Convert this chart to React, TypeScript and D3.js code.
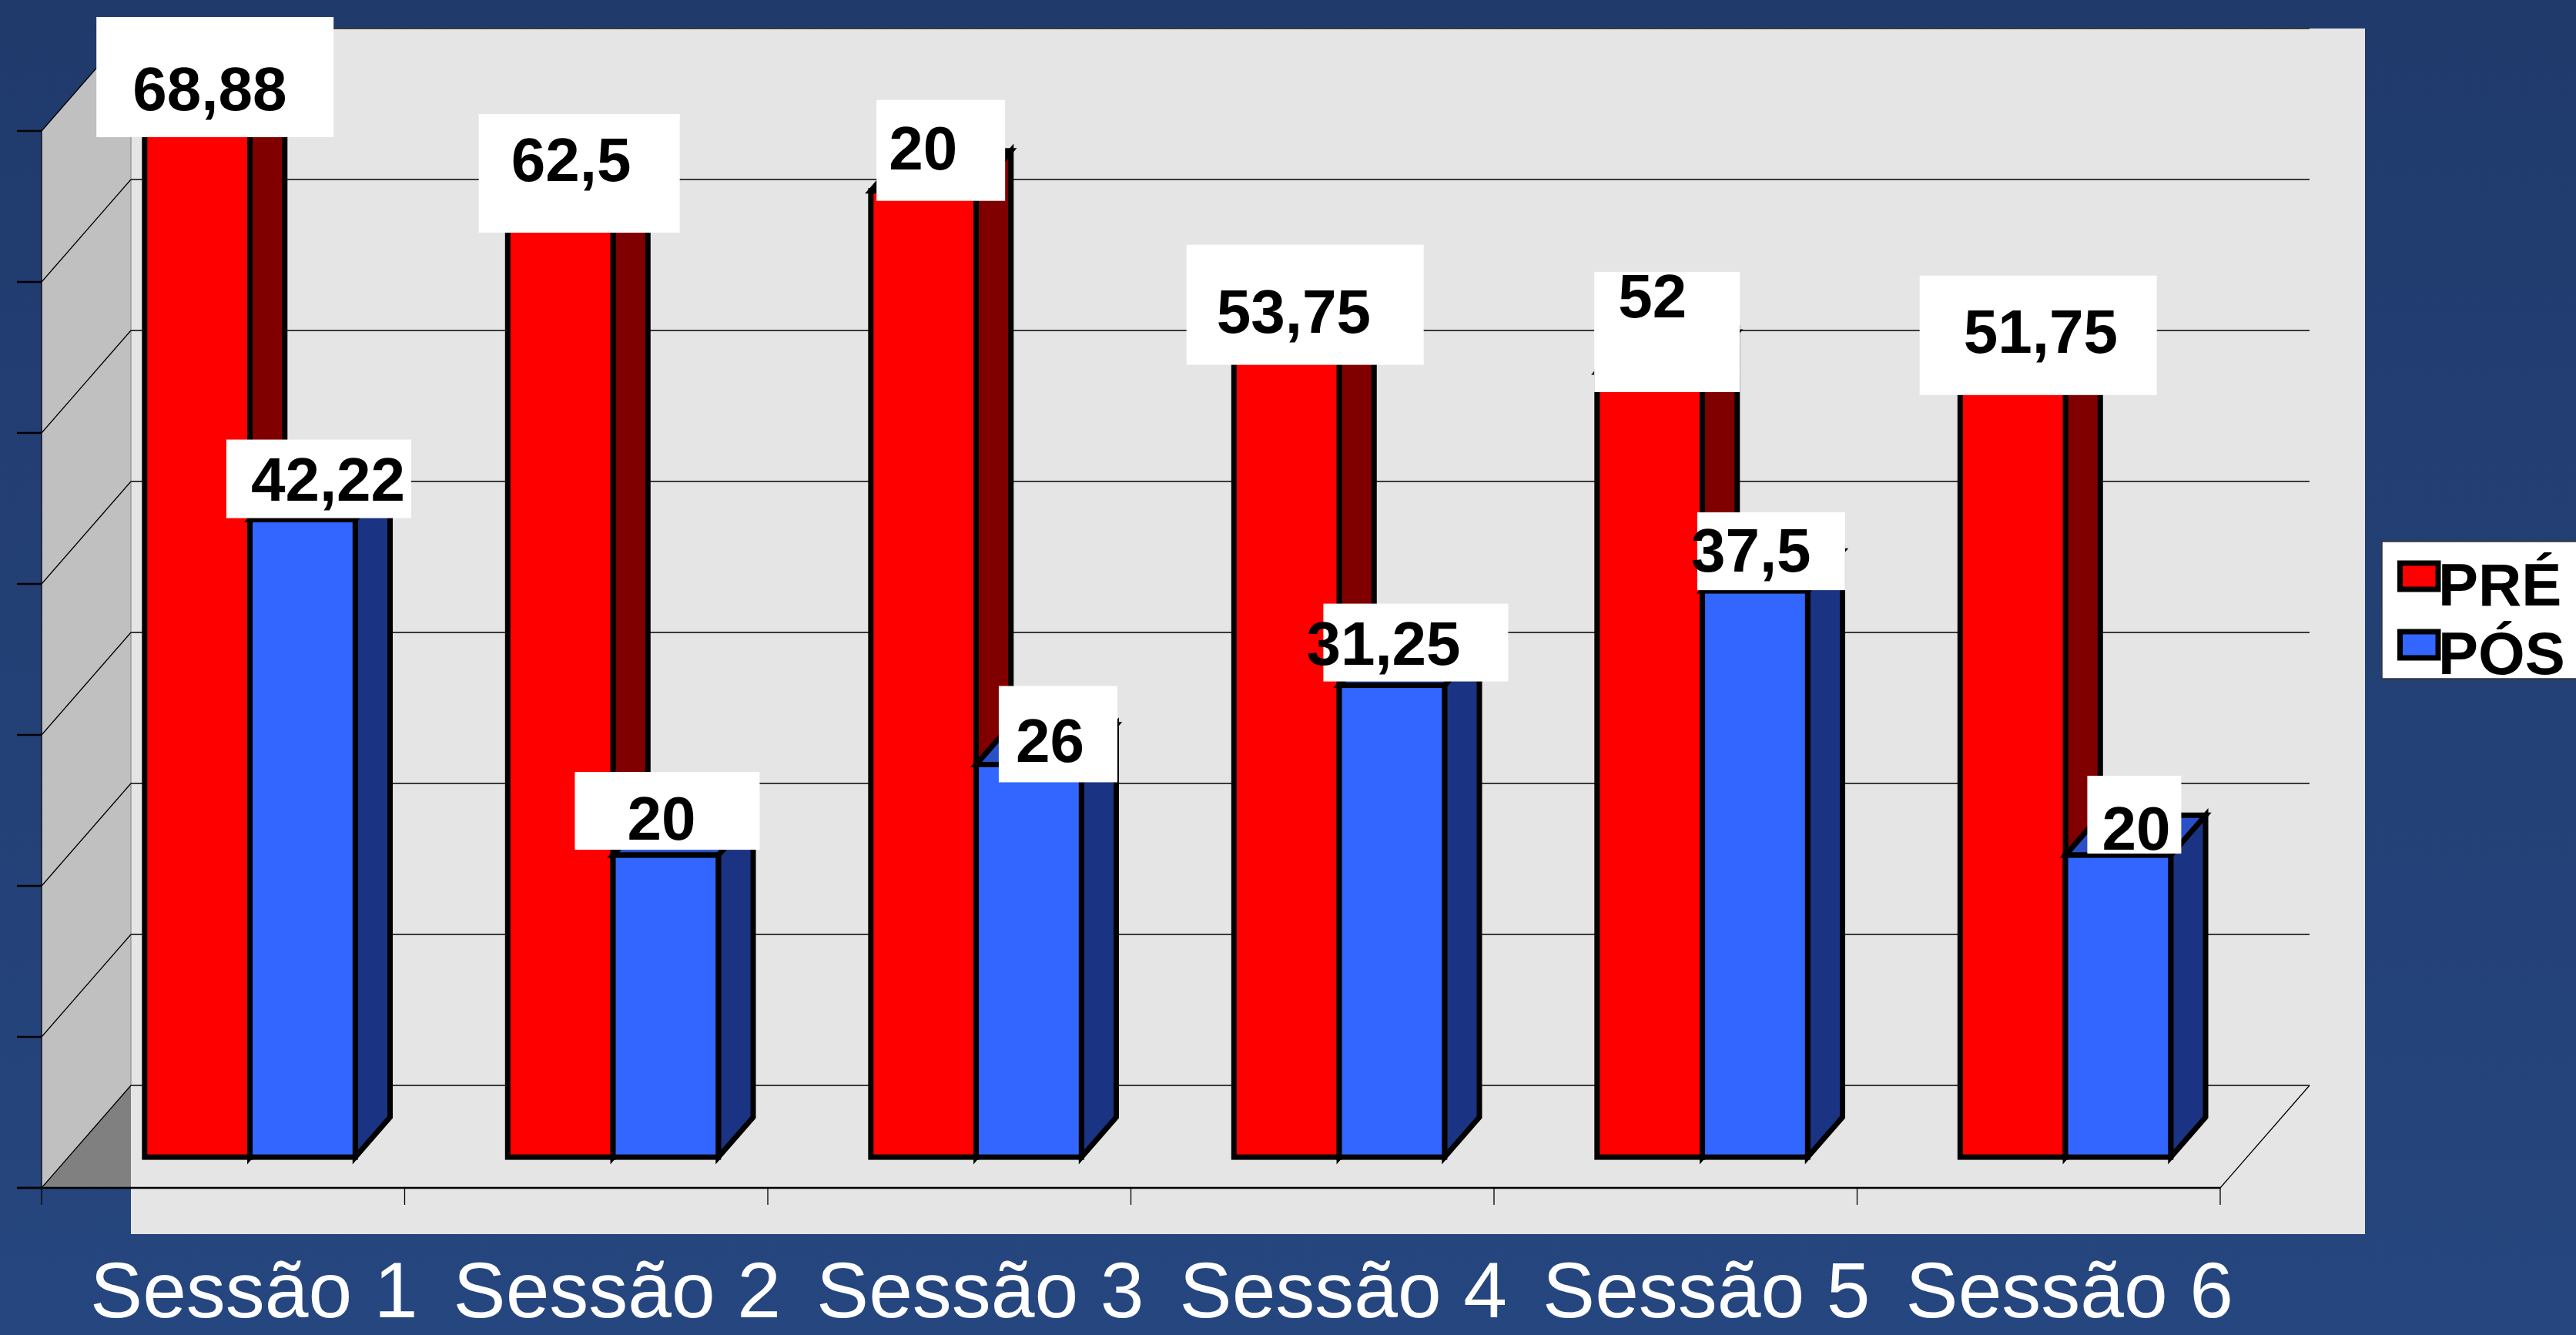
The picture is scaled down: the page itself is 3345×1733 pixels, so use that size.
import React from "react";
import * as d3 from "d3";

// data
const categories = ["Sessão 1", "Sessão 2", "Sessão 3", "Sessão 4", "Sessão 5", "Sessão 6"];
const series = ["PRÉ", "PÓS"];
const preValues = [68.88, 62.5, 64, 53.75, 52, 51.75];
const posValues = [42.22, 20, 26, 31.25, 37.5, 20];
// labels as printed (the third PRÉ label reads "20" in the source)
const preLabels = ["68,88", "62,5", "20", "53,75", "52", "51,75"];
const posLabels = ["42,22", "20", "26", "31,25", "37,5", "20"];
const yTicks = [0, 10, 20, 30, 40, 50, 60, 70];

// label box placement relative to the top centre of each bar: [boxDx, boxDy, w, h, textDx, textDy]
const preLabelLayout = [
  [-131, -130, 308, 156, -84, -9],
  [-106, -129, 261, 154, -64, -42],
  [-61, -118, 167, 131, -45, -28],
  [-130, -131, 308, 156, -91, -17],
  [-72, -130, 189, 156, -41, -71],
  [-121, -130, 308, 155, -64, -30],
];
const posLabelLayout = [
  [-99, -104, 240, 102, -67, -25],
  [-118, -108, 240, 101, -50, -20],
  [-39, -102, 154, 125, -17, -4],
  [-89, -106, 240, 101, -111, -27],
  [-75, -102, 192, 101, -83, -25],
  [-40, -103, 122, 101, -21, -7],
];

const W = 3345;
const H = 1733;
const DX = 116; // depth offset of the floor
const DY = 133;
const F0 = 0.3; // bar front depth
const F1 = 0.69; // bar back depth
const FONT = "'Liberation Sans', Arial, sans-serif";

const colors = {
  front: ["#ff0000", "#3366ff"],
  side: ["#800000", "#1a3382"],
  top: ["#c00000", "#2a50c8"],
};

const App: React.FC = () => {
  const x = d3
    .scaleBand<string>()
    .domain(categories)
    .range([54, 2883])
    .paddingInner(0.42)
    .paddingOuter(0.21);
  const step = x.step();
  const xs = d3.scaleBand<string>().domain(series).range([0, x.bandwidth()]);
  const y = d3.scaleLinear().domain([0, 70]).range([1542, 170]);

  const x0 = 54;
  const x1 = 2883;
  const yBase = y(0);
  const pt = (px: number, py: number, f: number) => `${px + f * DX},${py - f * DY}`;

  const bars: JSX.Element[] = [];
  const labels: JSX.Element[] = [];
  categories.forEach((cat, i) => {
    [preValues[i], posValues[i]].forEach((v, s) => {
      const bx0 = x(cat)! + xs(series[s])!;
      const bx1 = bx0 + xs.bandwidth();
      const yt = y(v);
      const common = {
        stroke: "#000",
        strokeWidth: 7,
        strokeLinejoin: "miter" as const,
      };
      bars.push(
        <g key={`b-${i}-${s}`}>
          <polygon
            points={[pt(bx1, yt, F0), pt(bx1, yt, F1), pt(bx1, yBase, F1), pt(bx1, yBase, F0)].join(" ")}
            fill={colors.side[s]}
            {...common}
          />
          <polygon
            points={[pt(bx0, yt, F0), pt(bx0, yt, F1), pt(bx1, yt, F1), pt(bx1, yt, F0)].join(" ")}
            fill={colors.top[s]}
            {...common}
          />
          <rect
            x={bx0 + F0 * DX}
            y={yt - F0 * DY}
            width={bx1 - bx0}
            height={yBase - yt}
            fill={colors.front[s]}
            {...common}
          />
        </g>
      );
      const lay = s === 0 ? preLabelLayout[i] : posLabelLayout[i];
      const cx = (bx0 + bx1) / 2 + F0 * DX;
      const cy = yt - F0 * DY;
      labels.push(
        <g key={`l-${i}-${s}`}>
          <rect x={cx + lay[0]} y={cy + lay[1]} width={lay[2]} height={lay[3]} fill="#fff" />
          <text
            x={cx + lay[4]}
            y={cy + lay[5]}
            fontFamily={FONT}
            fontWeight="bold"
            fontSize={80}
            fill="#000"
          >
            {s === 0 ? preLabels[i] : posLabels[i]}
          </text>
        </g>
      );
    });
  });

  return (
    <svg
      width={W}
      height={H}
      style={{ position: "absolute", left: 0, top: 0, display: "block" }}
    >
      <defs>
        <linearGradient id="bg" x1="0" y1="0" x2="0" y2="1">
          <stop offset="0" stopColor="#203a6c" />
          <stop offset="1" stopColor="#26467f" />
        </linearGradient>
      </defs>
      <rect width={W} height={H} fill="url(#bg)" />

      {/* plot area */}
      <rect x={x0 + DX} y={y(70) - DY} width={3071 - x0 - DX} height={1602 - (y(70) - DY)} fill="#e5e5e5" />

      {/* left wall */}
      <polygon
        points={[pt(x0, yBase, 0), pt(x0, y(70), 0), pt(x0, y(70), 1), pt(x0, yBase, 1)].join(" ")}
        fill="#c0c0c0"
      />
      <line x1={x0 + DX} x2={x0 + DX} y1={y(70) - DY} y2={yBase - DY} stroke="#9a9a9a" strokeWidth={1.5} />
      {/* visible floor corner */}
      <polygon
        points={[pt(x0, yBase, 0), pt(x0, yBase, 1), `${x0 + DX},${yBase}`].join(" ")}
        fill="#808080"
      />

      {/* gridlines: back wall and left wall */}
      {yTicks.map((t) => (
        <g key={`g-${t}`}>
          <line
            x1={x0 + DX}
            x2={x1 + DX}
            y1={y(t) - DY}
            y2={y(t) - DY}
            stroke="#3a3a3a"
            strokeWidth={t === 0 ? 2 : 1.8}
          />
          <line x1={x0} y1={y(t)} x2={x0 + DX} y2={y(t) - DY} stroke="#000" strokeWidth={1.3} />
          <line x1={22} x2={x0} y1={y(t)} y2={y(t)} stroke="#000" strokeWidth={2.5} />
        </g>
      ))}

      {/* axes */}
      <line x1={x0} x2={x0} y1={y(70)} y2={yBase} stroke="#000" strokeWidth={1.3} />
      <line x1={x1} y1={yBase} x2={x1 + DX} y2={yBase - DY} stroke="#000" strokeWidth={1.3} />
      <line x1={22} x2={x1} y1={yBase} y2={yBase} stroke="#000" strokeWidth={2.5} />
      {d3.range(categories.length + 1).map((k) => (
        <line
          key={`t-${k}`}
          x1={x0 + k * step}
          x2={x0 + k * step}
          y1={yBase}
          y2={yBase + 22}
          stroke="#000"
          strokeWidth={1.3}
        />
      ))}

      {bars}
      {labels}

      {/* category labels */}
      {categories.map((cat) => (
        <text
          key={cat}
          x={x(cat)! + x.bandwidth() / 2 + 40}
          y={1710}
          textAnchor="middle"
          fontFamily={FONT}
          fontSize={102}
          fill="#fff"
        >
          {cat}
        </text>
      ))}

      {/* legend */}
      <rect x={3093} y={703} width={270} height={178} fill="#fff" stroke="#333" strokeWidth={1.5} />
      {series.map((name, s) => (
        <g key={name} transform={`translate(0,${s * 89})`}>
          <rect x={3116.5} y={731} width={49.5} height={34} fill={colors.front[s]} stroke="#000" strokeWidth={7} />
          <text x={3166} y={786} fontFamily={FONT} fontWeight="bold" fontSize={78} fill="#000">
            {name}
          </text>
        </g>
      ))}
    </svg>
  );
};

export default App;
